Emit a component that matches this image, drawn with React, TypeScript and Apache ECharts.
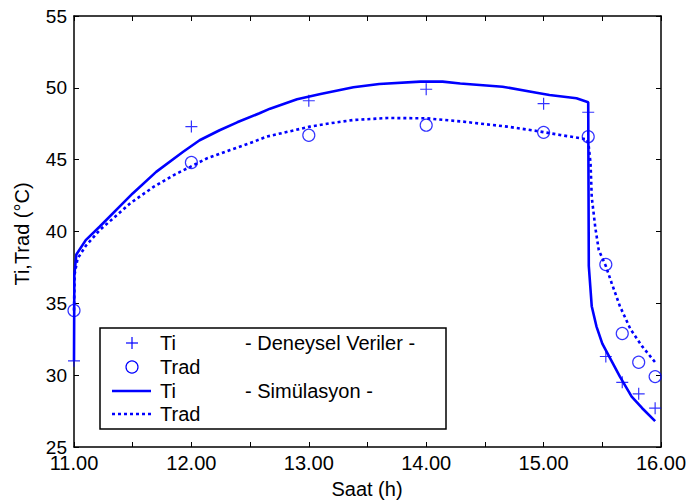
import React, { useEffect, useRef } from "react";
import * as echarts from "echarts";

const tiExp: [number, number][] = [
  [11.0, 31.0], [12.0, 47.3], [13.0, 49.1], [14.0, 49.9], [15.0, 48.9],
  [15.38, 48.3], [15.53, 31.3], [15.67, 29.5], [15.81, 28.7], [15.95, 27.7],
];
const tradExp: [number, number][] = [
  [11.0, 34.5], [12.0, 44.8], [13.0, 46.7], [14.0, 47.4], [15.0, 46.9],
  [15.38, 46.6], [15.53, 37.7], [15.67, 32.9], [15.81, 30.9], [15.95, 29.9],
];
const tiSim: [number, number][] = [
  [11.0, 31.0], [11.003, 37.0], [11.02, 38.4], [11.1, 39.4], [11.22, 40.35],
  [11.39, 41.75], [11.5, 42.65], [11.7, 44.15], [11.93, 45.55], [12.07, 46.35],
  [12.24, 47.05], [12.39, 47.6], [12.58, 48.23], [12.67, 48.55], [12.9, 49.2],
  [13.1, 49.57], [13.38, 50.04], [13.6, 50.27], [13.95, 50.43], [14.14, 50.43],
  [14.29, 50.3], [14.65, 50.08], [14.94, 49.66], [15.05, 49.5], [15.28, 49.27],
  [15.38, 49.0], [15.385, 37.6], [15.41, 34.8], [15.45, 33.4], [15.5, 32.2],
  [15.65, 29.9], [15.75, 28.5], [15.84, 27.7], [15.95, 26.8],
];
const tradSim: [number, number][] = [
  [11.0, 34.5], [11.005, 37.0], [11.03, 38.1], [11.1, 39.0], [11.22, 40.1],
  [11.48, 41.97], [11.68, 43.12], [11.85, 43.93], [11.99, 44.5], [12.13, 45.08],
  [12.33, 45.67], [12.53, 46.25], [12.64, 46.6], [13.01, 47.3], [13.18, 47.53],
  [13.38, 47.76], [13.67, 47.9], [14.0, 47.88], [14.31, 47.65], [14.69, 47.3],
  [14.94, 47.0], [15.14, 46.72], [15.37, 46.42], [15.385, 45.9], [15.4, 44.75],
  [15.41, 42.4], [15.44, 40.3], [15.47, 38.7], [15.53, 37.6], [15.58, 36.4],
  [15.65, 34.8], [15.74, 33.2], [15.84, 32.0], [15.95, 30.9],
];

const legendRows = ["Ti", "Trad", "Ti", "Trad"];
const legendGroups = ["- Deneysel Veriler -", "- Simülasyon -"];
const xName = "Saat (h)";
const yName = "Ti,Trad (°C)";

const BLUE = "#0000ff";
const FONT = "Liberation Sans";
const FS = 19;

export default function App() {
  const ref = useRef<HTMLDivElement>(null);
  useEffect(() => {
    if (!ref.current) return;
    const chart = echarts.init(ref.current, null, { renderer: "svg" });
    const axisCommon = {
      axisLine: { show: true, onZero: false, lineStyle: { color: "#000", width: 1.5 } },
      axisTick: { show: true, inside: true, length: 5, lineStyle: { color: "#000", width: 1 } },
      splitLine: { show: false },
    };
    const xLabel = (v: number) =>
      Math.abs(v - Math.round(v)) < 1e-6 ? v.toFixed(2) : "";
    const rowY = [343, 367, 391, 414];
    const txt = (x: number, y: number, text: string) => ({
      type: "text",
      x,
      y,
      z: 101,
      style: { text, fill: "#000", font: `20px "${FONT}"`, verticalAlign: "middle", align: "left" },
    });
    chart.setOption({
      animation: false,
      backgroundColor: "#fff",
      grid: { left: 74, right: 30, top: 16, bottom: 56 },
      xAxis: [
        {
          type: "value",
          min: 11,
          max: 16,
          interval: 0.5,
          position: "bottom",
          ...axisCommon,
          axisLabel: {
            formatter: xLabel,
            color: "#000",
            fontFamily: FONT,
            fontSize: 20,
            margin: 6,
            showMinLabel: true,
            showMaxLabel: true,
          },
        },
        {
          type: "value",
          min: 11,
          max: 16,
          interval: 0.5,
          position: "top",
          ...axisCommon,
          axisLabel: { show: false },
        },
      ],
      yAxis: [
        {
          type: "value",
          min: 25,
          max: 55,
          interval: 5,
          position: "left",
          ...axisCommon,
          axisLabel: { color: "#000", fontFamily: FONT, fontSize: FS, margin: 7 },
        },
        {
          type: "value",
          min: 25,
          max: 55,
          interval: 5,
          position: "right",
          ...axisCommon,
          axisLabel: { show: false },
        },
      ],
      series: [
        {
          type: "line",
          name: "Ti sim",
          data: tiSim,
          showSymbol: false,
          symbol: "none",
          lineStyle: { color: BLUE, width: 2.6 },
          z: 3,
        },
        {
          type: "line",
          name: "Trad sim",
          data: tradSim,
          showSymbol: false,
          symbol: "none",
          lineStyle: { color: BLUE, width: 2.6, type: [3, 3] },
          z: 3,
        },
        {
          type: "scatter",
          name: "Ti exp",
          data: tiExp,
          symbol: "path://M5,0V10M0,5H10",
          symbolSize: 12,
          itemStyle: { color: "none", borderColor: BLUE, borderWidth: 1.2 },
          z: 4,
        },
        {
          type: "scatter",
          name: "Trad exp",
          data: tradExp,
          symbol: "circle",
          symbolSize: 12,
          itemStyle: { color: "none", borderColor: BLUE, borderWidth: 1.2 },
          z: 4,
        },
      ],
      graphic: [
        {
          type: "text",
          x: 22,
          y: 234,
          rotation: Math.PI / 2,
          style: {
            text: yName,
            fill: "#000",
            font: `20px "${FONT}"`,
            align: "center",
            verticalAlign: "middle",
          },
        },
        {
          type: "text",
          x: 367,
          y: 489,
          style: {
            text: xName,
            fill: "#000",
            font: `20px "${FONT}"`,
            align: "center",
            verticalAlign: "middle",
          },
        },
        {
          type: "rect",
          z: 100,
          shape: { x: 100, y: 328, width: 346, height: 101 },
          style: { fill: "#fff", stroke: "#000", lineWidth: 1.5 },
        },
        { type: "line", z: 101, shape: { x1: 126, y1: rowY[0], x2: 138, y2: rowY[0] }, style: { stroke: BLUE, lineWidth: 1.2 } },
        { type: "line", z: 101, shape: { x1: 132, y1: rowY[0] - 6, x2: 132, y2: rowY[0] + 6 }, style: { stroke: BLUE, lineWidth: 1.2 } },
        { type: "circle", z: 101, shape: { cx: 132, cy: rowY[1], r: 6 }, style: { fill: "none", stroke: BLUE, lineWidth: 1.2 } },
        { type: "line", z: 101, shape: { x1: 112, y1: rowY[2], x2: 151, y2: rowY[2] }, style: { stroke: BLUE, lineWidth: 2.6 } },
        { type: "line", z: 101, shape: { x1: 112, y1: rowY[3], x2: 151, y2: rowY[3] }, style: { stroke: BLUE, lineWidth: 2.6, lineDash: [3, 3] } },
        ...legendRows.map((t, i) => txt(160, rowY[i], t)),
        txt(245, rowY[0], legendGroups[0]),
        txt(245, rowY[2], legendGroups[1]),
      ],
    });
    return () => chart.dispose();
  }, []);
  return (
    <div
      ref={ref}
      style={{ position: "fixed", left: 0, top: 0, width: 691, height: 503 }}
    />
  );
}
